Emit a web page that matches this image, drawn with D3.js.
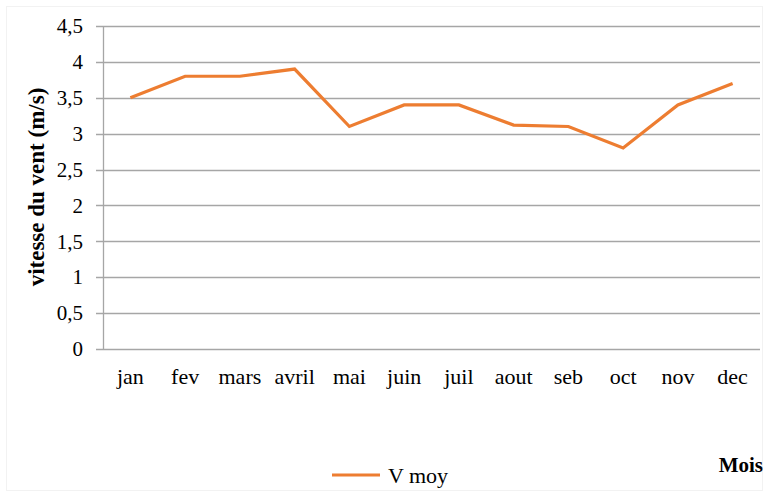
<!DOCTYPE html>
<html>
<head>
<meta charset="utf-8">
<script src="https://cdn.jsdelivr.net/npm/d3@7/dist/d3.min.js"></script>
<style>
  html, body { margin: 0; padding: 0; background: #fff; }
  svg { display: block; }
  text { font-family: "Liberation Serif", "Times New Roman", serif; fill: #000; }
</style>
</head>
<body>
<svg id="chart" width="769" height="497"></svg>
<script>
// Monthly mean wind speed (m/s)
const months = ["jan", "fev", "mars", "avril", "mai", "juin", "juil", "aout", "seb", "oct", "nov", "dec"];
const vMoy = [3.5, 3.8, 3.8, 3.9, 3.1, 3.4, 3.4, 3.12, 3.1, 2.8, 3.4, 3.7];
const yTicks = [0, 0.5, 1, 1.5, 2, 2.5, 3, 3.5, 4, 4.5];
const seriesName = "V moy";

const svg = d3.select("#chart");
const W = 769, H = 497;
const plot = { left: 103, right: 760, top: 26, bottom: 349 };

// faint outer frame
svg.append("rect")
  .attr("x", 6.5).attr("y", 6.5).attr("width", W - 13).attr("height", H - 13)
  .attr("fill", "none").attr("stroke", "#f2f2f2");

const x = d3.scaleBand().domain(months).range([plot.left, plot.right]);
const y = d3.scaleLinear().domain([0, 4.5]).range([plot.bottom, plot.top]);

const fmt = v => String(v).replace(".", ",");
const serif = '"Liberation Serif", "Times New Roman", serif';

// horizontal gridlines, extending left as tick marks
svg.append("g")
  .selectAll("line")
  .data(yTicks)
  .join("line")
  .attr("x1", plot.left - 7).attr("x2", plot.right)
  .attr("y1", d => Math.round(y(d)) + 0.5).attr("y2", d => Math.round(y(d)) + 0.5)
  .attr("stroke", "#a6a6a6").attr("stroke-width", 1.3);

// vertical axis line
svg.append("line")
  .attr("x1", plot.left + 0.5).attr("x2", plot.left + 0.5)
  .attr("y1", plot.top).attr("y2", plot.bottom + 0.5)
  .attr("stroke", "#a6a6a6").attr("stroke-width", 1.3);

// y tick labels
const yAxis = d3.axisLeft(y).tickValues(yTicks).tickFormat(fmt).tickSize(0).tickPadding(20);
const gy = svg.append("g").attr("transform", `translate(${plot.left},0)`).call(yAxis);
gy.select(".domain").remove();
gy.selectAll("text")
  .style("font-family", serif)
  .style("font-size", "21px").attr("fill", "#000");

// x tick labels
const xAxis = d3.axisBottom(x).tickSize(0).tickPadding(19);
const gx = svg.append("g").attr("transform", `translate(0,${plot.bottom})`).call(xAxis);
gx.select(".domain").remove();
gx.selectAll("text")
  .style("font-family", serif)
  .style("font-size", "22px").attr("fill", "#000");

// data line
const line = d3.line()
  .x((d, i) => x(months[i]) + x.bandwidth() / 2)
  .y(d => y(d));
svg.append("path")
  .datum(vMoy)
  .attr("d", line)
  .attr("fill", "none")
  .attr("stroke", "#ED7D31")
  .attr("stroke-width", 3.2)
  .attr("stroke-linejoin", "miter");

// y axis title
svg.append("text")
  .attr("transform", `translate(44,187) rotate(-90)`)
  .attr("text-anchor", "middle")
  .style("font-size", "23px").style("font-weight", "bold")
  .text("vitesse du vent (m/s)");

// x axis title
svg.append("text")
  .attr("x", 763).attr("y", 472)
  .attr("text-anchor", "end")
  .style("font-size", "21px").style("font-weight", "bold")
  .text("Mois");

// legend
svg.append("line")
  .attr("x1", 332).attr("x2", 380).attr("y1", 475).attr("y2", 475)
  .attr("stroke", "#ED7D31").attr("stroke-width", 3.2);
svg.append("text")
  .attr("x", 388).attr("y", 483)
  .style("font-size", "22px")
  .text(seriesName);
</script>
</body>
</html>
